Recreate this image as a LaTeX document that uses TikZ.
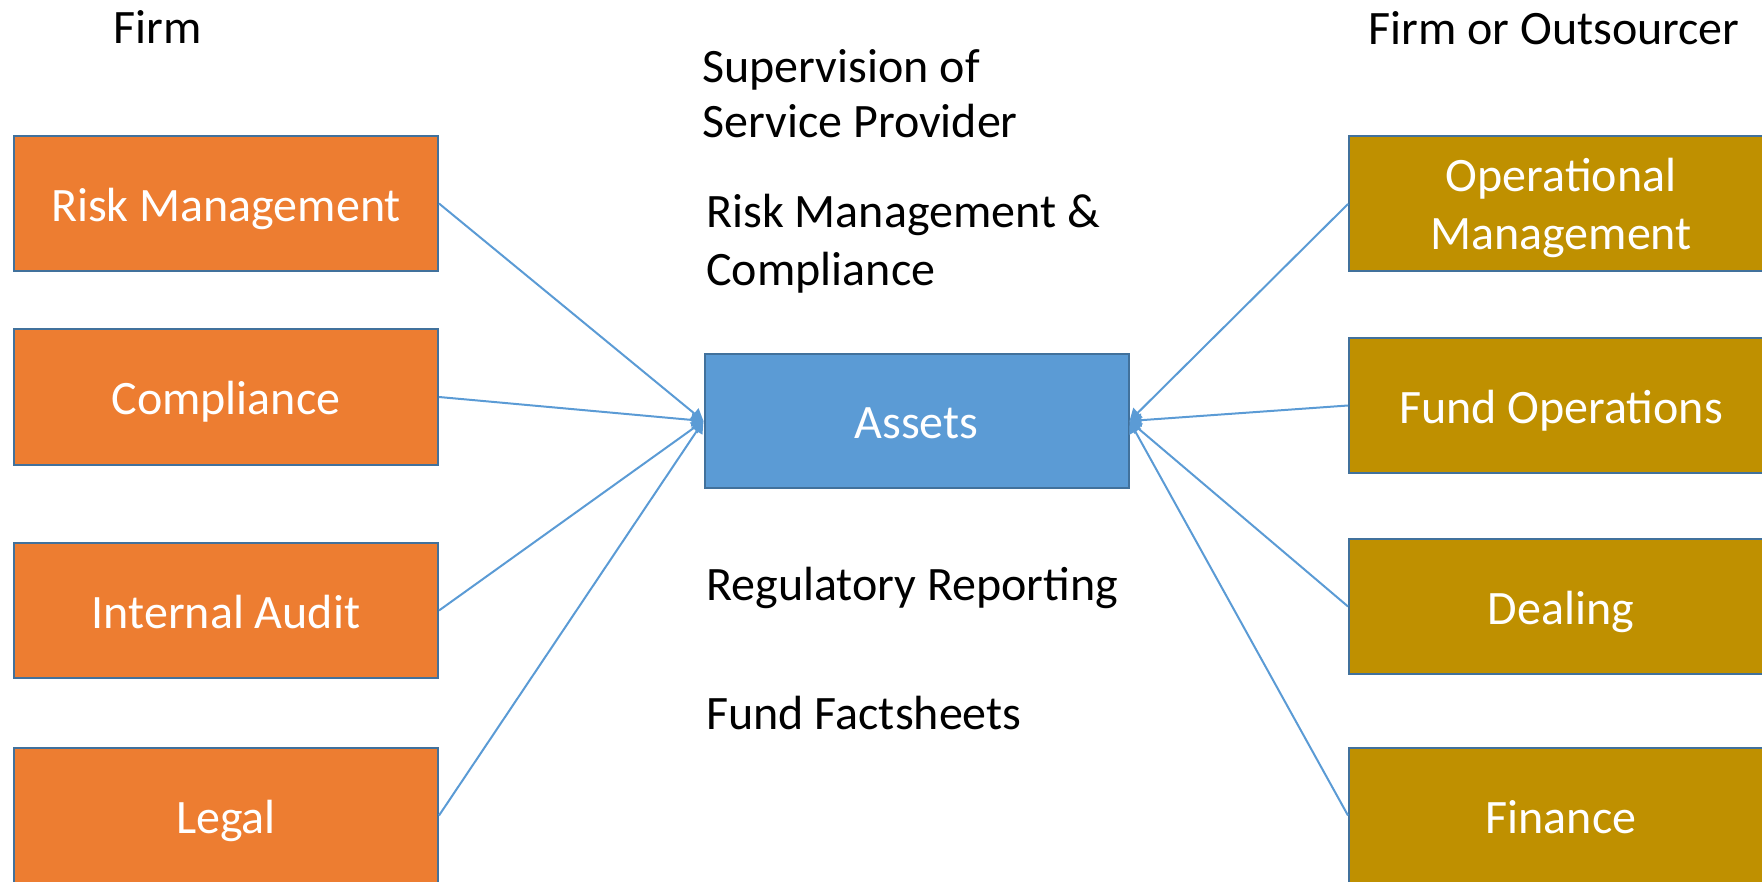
\documentclass[tikz,border=0pt]{standalone}
\usepackage{fontspec}
\setmainfont{Carlito}
\usetikzlibrary{arrows.meta}
\definecolor{orangebox}{HTML}{ED7D31}
\definecolor{goldbox}{HTML}{BF9000}
\definecolor{bluebox}{HTML}{5B9BD5}
\definecolor{boxedge}{HTML}{41719C}
\definecolor{linkblue}{HTML}{5B9BD5}
\newcommand{\boxtext}[1]{\raisebox{-2.6pt}[\height][\depth]{#1\vphantom{kg}}}
\begin{document}
\begin{tikzpicture}[x=0.5pt,y=-0.5pt,
  box/.style={draw=boxedge,line width=1pt,minimum width=212pt,minimum height=67.5pt,inner sep=0pt,text=white,align=center,font=\fontsize{24}{29}\selectfont},
  leftbox/.style={box,fill=orangebox},
  rightbox/.style={box,fill=goldbox},
  centerbox/.style={box,fill=bluebox,minimum height=67pt},
  label/.style={inner sep=0pt,align=left,font=\fontsize{24}{28.5}\selectfont},
  link/.style={draw=linkblue,line width=1pt,-{Triangle[length=6pt,width=6.5pt]}}]
\useasboundingbox (0,0) rectangle (1762,882);
\clip (0,0) rectangle (1762,882);
% left column
\node[leftbox] (rm) at (226,203.5) {\boxtext{Risk Management}};
\node[leftbox] (co) at (226,397) {\boxtext{Compliance}};
\node[leftbox] (ia) at (226,610.5) {\boxtext{Internal Audit}};
\node[leftbox] (le) at (226,815.5) {\boxtext{Legal}};
% right column
\node[rightbox] (om) at (1561,204) {\raisebox{-2.6pt}[\height][\depth]{\begin{tabular}{@{}c@{}}Operational\\Management\end{tabular}}};
\node[rightbox] (fo) at (1561,405.5) {\boxtext{Fund Operations}};
\node[rightbox] (de) at (1561,606.5) {\boxtext{Dealing}};
\node[rightbox] (fi) at (1561,815.5) {\boxtext{Finance}};
% centre
\node[centerbox] (as) at (916.5,421) {\boxtext{Assets}};
% headings and labels
\node[label] (firm) at (158,27) {Firm};
\node[label] (firmout) at (1554,28) {Firm or Outsourcer};
\node[label,anchor=west,font=\fontsize{24}{27.5}\selectfont] (sup) at (702,93.5) {Supervision of\\Service Provider};
\node[label,anchor=west,font=\fontsize{24}{29}\selectfont] (rmc) at (706,243.5) {Risk Management \&\\Compliance};
\node[label,anchor=west] (reg) at (706,588) {Regulatory Reporting};
\node[label,anchor=west] (ff) at (706,713) {Fund Factsheets};
% connectors
\draw[link] (rm.east) -- (as.west);
\draw[link] (co.east) -- (as.west);
\draw[link] (ia.east) -- (as.west);
\draw[link] (le.east) -- (as.west);
\draw[link] (om.west) -- (as.east);
\draw[link] (fo.west) -- (as.east);
\draw[link] (de.west) -- (as.east);
\draw[link] (fi.west) -- (as.east);
\end{tikzpicture}
\end{document}
